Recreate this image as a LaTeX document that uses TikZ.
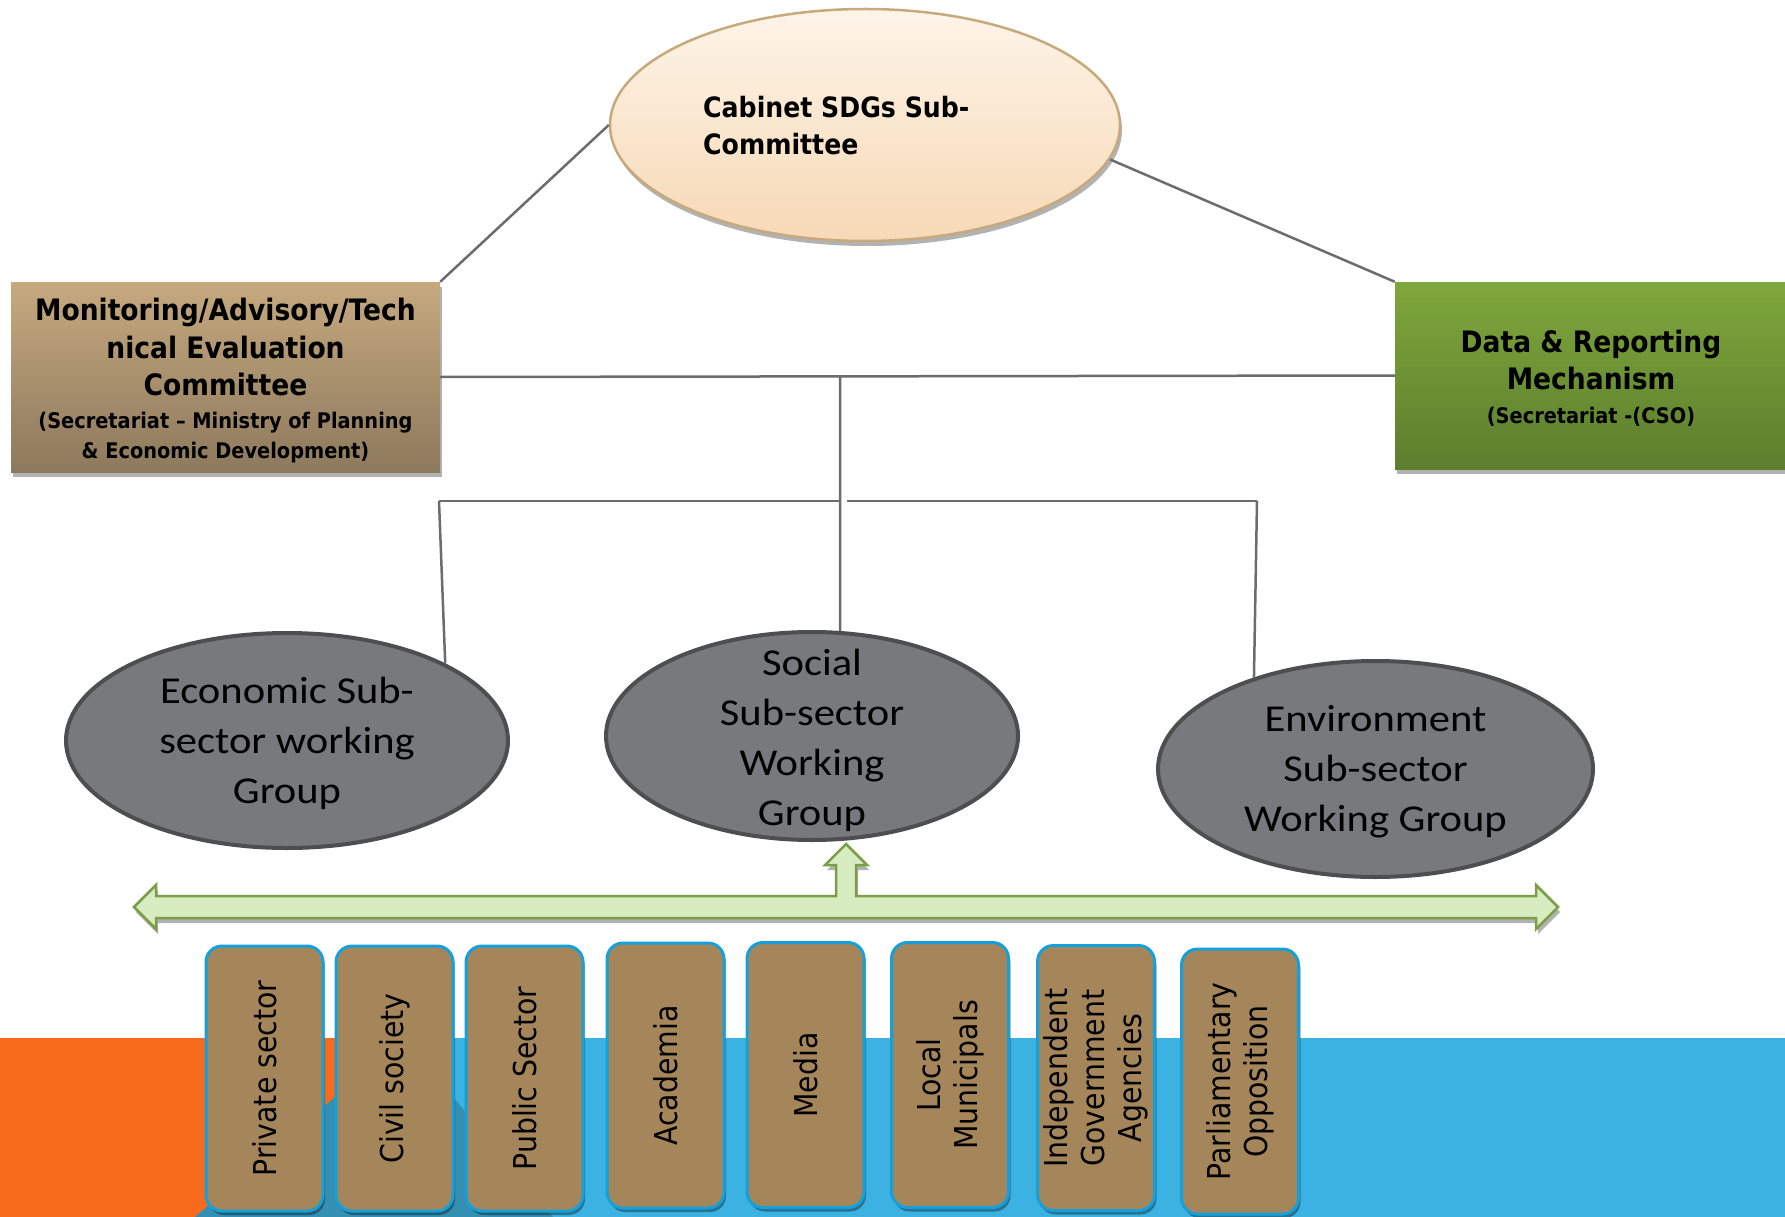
\documentclass[tikz,border=0pt]{standalone}
\usepackage{fontspec}
\usetikzlibrary{shapes.geometric,shadows}
\newfontfamily\tahomafont[FakeStretch=0.9]{DejaVu Sans}
\newfontfamily\calibrifont[FakeStretch=1.12]{Carlito}
\definecolor{sdg_cream_top}{RGB}{253, 244, 232}
\definecolor{sdg_cream_bot}{RGB}{247, 217, 182}
\definecolor{sdg_cream_rim}{RGB}{198, 170, 126}
\definecolor{sdg_tan_top}{RGB}{198, 169, 127}
\definecolor{sdg_tan_bot}{RGB}{141, 121, 93}
\definecolor{sdg_green_top}{RGB}{126, 167, 59}
\definecolor{sdg_green_bot}{RGB}{92, 126, 46}
\definecolor{sdg_grey}{RGB}{120, 121, 125}
\definecolor{sdg_grey_rim}{RGB}{78, 78, 80}
\definecolor{sdg_line}{RGB}{108, 108, 108}
\definecolor{sdg_mint}{RGB}{216, 236, 193}
\definecolor{sdg_olive}{RGB}{125, 158, 72}
\definecolor{sdg_brown}{RGB}{165, 134, 90}
\definecolor{sdg_cyan}{RGB}{22, 160, 218}
\definecolor{sdg_orange}{RGB}{248, 107, 29}
\definecolor{sdg_sky}{RGB}{59, 178, 225}
\definecolor{sdg_teal}{RGB}{52, 144, 178}
\tikzstyle{softshadow}=[drop shadow={shadow xshift=2pt,shadow yshift=-5pt,
  opacity=0.3,fill=black}]
\tikzstyle{topn}=[ellipse,top color=sdg_cream_top,bottom color=sdg_cream_bot,
  draw=sdg_cream_rim,line width=2.5pt,inner sep=0pt,
  minimum width=510pt,minimum height=232pt,softshadow]
\tikzstyle{topt}=[align=left,inner sep=0pt,
  font=\tahomafont\bfseries\fontsize{28}{37}\selectfont]
\tikzstyle{secn}=[rectangle,inner sep=0pt,softshadow]
\tikzstyle{sect}=[inner sep=0pt,align=center,
  font=\tahomafont\bfseries\fontsize{29.5}{37.5}\selectfont]
\tikzstyle{wgn}=[ellipse,fill=sdg_grey,draw=sdg_grey_rim,line width=4pt,
  inner sep=0pt]
\tikzstyle{wgt}=[align=center,inner sep=0pt,
  font=\calibrifont\fontsize{38}{50}\selectfont]
\tikzstyle{stn}=[rectangle,rounded corners=16pt,fill=sdg_brown,draw=sdg_cyan,
  line width=3pt,rotate=90,minimum width=265pt,minimum height=117pt,
  inner sep=0pt,align=center,drop shadow={shadow xshift=2pt,
  shadow yshift=-4pt,opacity=0.35,fill=black},
  font=\tahomafont\fontsize{31.5}{37}\selectfont]
\tikzstyle{ln}=[draw=sdg_line,line width=2.5pt]

\begin{document}
\begin{tikzpicture}[x=1pt,y=-1pt]
            \useasboundingbox (0, 0) rectangle (1785, 1217);
            % background strip
            \fill [sdg_sky] (0, 1038) rectangle (1785, 1217);
            \fill [sdg_orange] (0, 1038) -- (404, 1038) -- (195, 1217) -- (0, 1217) -- cycle;
            \fill [sdg_teal] (404, 1038) -- (553, 1217) -- (195, 1217) -- cycle;

            \node [style=topn] (cab) at (865, 125) {};
            \node [style=topt, anchor=west] (cabT) at (703, 126) {Cabinet SDGs Sub-\\Committee};
            \node [style=secn, top color=sdg_tan_top, bottom color=sdg_tan_bot,
              minimum width=429pt, minimum height=190pt] (mon) at (225.5, 377) {};
            \node [style=sect] (monT) at (225.5, 381)
              {Monitoring/Advisory/Tech\\nical Evaluation\\Committee\\[-5pt]
              {\fontsize{21.5}{30}\selectfont(Secretariat – Ministry of Planning}\\[-7pt]
              {\fontsize{21.5}{30}\selectfont\& Economic Development)}};
            \node [style=secn, top color=sdg_green_top, bottom color=sdg_green_bot,
              minimum width=392pt, minimum height=187pt] (dr) at (1591, 375.5) {};
            \node [style=sect] (drT) at (1591, 378)
              {Data \& Reporting\\Mechanism\\[-4pt]
              {\fontsize{21.5}{30}\selectfont(Secretariat -(CSO)}};

            \node [style=wgn, minimum width=442pt, minimum height=215pt] (econ) at (287, 740.5) {};
            \node [style=wgn, minimum width=412pt, minimum height=208pt] (soc) at (812, 736) {};
            \node [style=wgn, minimum width=435pt, minimum height=216pt] (env) at (1375.5, 769) {};
            \node [style=wgt] (econT) at (287, 743) {Economic Sub-\\sector working\\Group};
            \node [style=wgt] (socT) at (812, 740) {Social\\Sub-sector\\Working\\Group};
            \node [style=wgt] (envT) at (1375.5, 772) {Environment\\Sub-sector\\Working Group};

            \coordinate (hub) at (840, 376);
            \coordinate (brL) at (439, 501);
            \coordinate (brM) at (840, 501);
            \coordinate (brN) at (847, 501);
            \coordinate (brR) at (1257, 501);
            \draw [style=ln] (mon.north east) to (cab.west);
            \draw [style=ln] (cab.-8) to (dr.north west);
            \draw [style=ln] (mon.east) to (dr.west);
            \draw [style=ln] (hub) to (soc.75);
            \draw [style=ln] (brL) to (brM);
            \draw [style=ln] (brN) to (brR);
            \draw [style=ln] (brL) to (econ.26);
            \draw [style=ln] (brR) to (env.143);

            % stakeholder arrow
            \draw [fill=sdg_mint, draw=sdg_olive, line width=2.5pt, line join=miter, softshadow]
              (134, 907) -- (156, 885) -- (156, 896) -- (836, 896) -- (836, 865)
              -- (825, 865) -- (846, 844) -- (867, 865) -- (856, 865) -- (856, 896)
              -- (1536, 896) -- (1536, 885) -- (1558, 907) -- (1536, 929)
              -- (1536, 918) -- (156, 918) -- (156, 929) -- cycle;

            \node [style=stn] (priv) at (264.5, 1078.5) {Private sector};
            \node [style=stn] (civ) at (394.5, 1078.5) {Civil society};
            \node [style=stn] (pub) at (524.5, 1078.5) {Public Sector};
            \node [style=stn] (acad) at (665.5, 1075.5) {Academia};
            \node [style=stn] (media) at (805.5, 1075) {Media};
            \node [style=stn] (muni) at (950, 1075) {Local\\Municipals};
            \node [style=stn] (iga) at (1096, 1078) {Independent\\Government\\Agencies};
            \node [style=stn] (parl) at (1240, 1081.5) {Parliamentary\\Opposition};
    \end{tikzpicture}
\end{document}
